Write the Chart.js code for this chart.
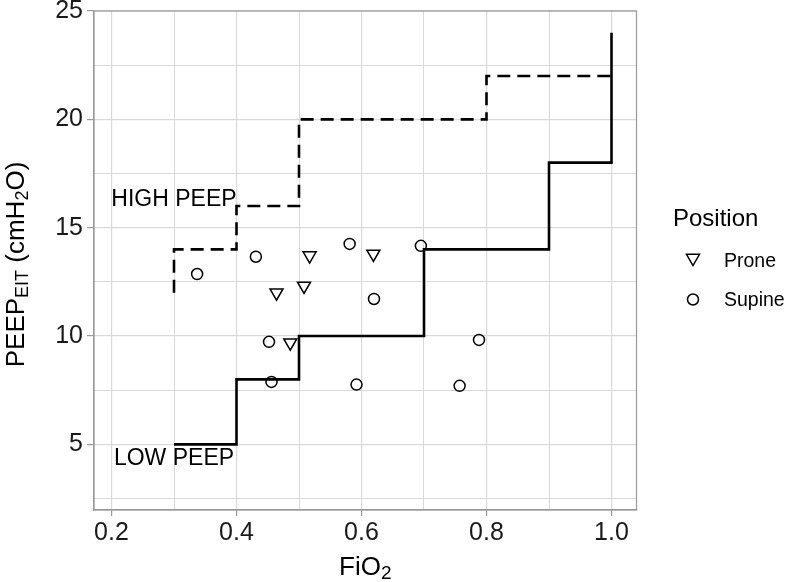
<!DOCTYPE html>
<html>
<head>
<meta charset="utf-8">
<script src="https://cdn.jsdelivr.net/npm/chart.js@4"></script>
<style>
  html, body { margin:0; padding:0; background:#fff; }
  #wrap { width:787px; height:582px; }
</style>
</head>
<body>
<div id="wrap"><canvas id="chart" width="787" height="582"></canvas></div>
<script>
// PEEP/FiO2 step tables
const lowFio2  = [0.3, 0.4, 0.5, 0.7, 0.9, 1.0];
const lowPeep  = [5, 8, 10, 14, 18, 24];
const highFio2 = [0.3, 0.3, 0.4, 0.5, 0.8, 1.0];
const highPeep = [12, 14, 16, 20, 22, 22];

// measured patients
const proneFio2  = [0.464, 0.508, 0.517, 0.486, 0.619];
const pronePeep  = [12.0, 12.31, 13.71, 9.69, 13.79];
const supineFio2 = [0.337, 0.431, 0.452, 0.456, 0.581, 0.620, 0.695, 0.592, 0.757, 0.788];
const supinePeep = [12.86, 13.66, 9.73, 7.88, 14.25, 11.71, 14.16, 7.76, 7.70, 9.82];

// axes
const xTicks = [0.2, 0.3, 0.4, 0.5, 0.6, 0.7, 0.8, 0.9, 1.0];
const yTicks = [2.5, 5, 7.5, 10, 12.5, 15, 17.5, 20, 22.5, 25];

// text labels on the panel
const noteText = ['HIGH PEEP', 'LOW PEEP'];
const noteX = [0.3, 0.3];
const noteY = [16.0, 4.05];

const FONT = "'Liberation Sans', Arial, sans-serif";
const GRID = '#d9d9d9';
const FRAME = '#9a9a9a';

const toPts = (xs, ys) => xs.map((x, i) => ({ x, y: ys[i] }));
const xMajor = v => Math.round(v * 10) % 2 === 0;
const yMajor = v => v % 5 === 0;

// draw a string made of normal and subscript parts, centred on x
function drawRich(ctx, parts, x, y, size, subSize){
  let w = 0;
  parts.forEach(p => { ctx.font = `${p.sub ? subSize : size}px ${FONT}`; p.w = ctx.measureText(p.t).width; w += p.w; });
  let cx = x - w / 2;
  ctx.textAlign = 'left'; ctx.textBaseline = 'alphabetic';
  parts.forEach(p => {
    ctx.font = `${p.sub ? subSize : size}px ${FONT}`;
    ctx.fillText(p.t, cx, y + (p.sub ? 4 : 0));
    cx += p.w;
  });
}

const decor = {
  id: 'decor',
  afterDraw(chart){
    const { ctx, chartArea: a, scales: { x, y } } = chart;
    ctx.save();
    // panel frame
    ctx.strokeStyle = FRAME; ctx.lineWidth = 1.2;
    ctx.strokeRect(a.left, a.top, a.right - a.left, a.bottom - a.top);

    // HIGH / LOW PEEP
    ctx.fillStyle = '#000';
    ctx.font = `23px ${FONT}`; ctx.textAlign = 'center'; ctx.textBaseline = 'alphabetic';
    noteText.forEach((t, i) => ctx.fillText(t, x.getPixelForValue(noteX[i]), y.getPixelForValue(noteY[i])));

    // x title
    drawRich(ctx, [{ t: 'FiO' }, { t: '2', sub: true }], (a.left + a.right) / 2, 575, 26, 19);

    // y title
    ctx.save();
    ctx.translate(24, (a.top + a.bottom) / 2 + 4);
    ctx.rotate(-Math.PI / 2);
    drawRich(ctx, [{ t: 'PEEP' }, { t: 'EIT', sub: true }, { t: ' (cmH' }, { t: '2', sub: true }, { t: 'O)' }], 0, 0, 26, 18);
    ctx.restore();

    // legend
    ctx.fillStyle = '#000';
    ctx.textAlign = 'left'; ctx.textBaseline = 'alphabetic';
    ctx.font = `24px ${FONT}`;
    ctx.fillText('Position', 673, 226);
    ctx.font = `19.5px ${FONT}`;
    ctx.fillText('Prone', 724, 267);
    ctx.fillText('Supine', 724, 306);
    ctx.strokeStyle = '#000'; ctx.lineWidth = 1.5;
    // down triangle
    const tx = 693, ty = 258, r = 7.5;
    ctx.beginPath();
    for (let k = 0; k < 3; k++){
      const ang = Math.PI + k * 2 * Math.PI / 3;
      const px = tx + Math.sin(ang) * r, py = ty - Math.cos(ang) * r;
      k ? ctx.lineTo(px, py) : ctx.moveTo(px, py);
    }
    ctx.closePath(); ctx.stroke();
    ctx.beginPath(); ctx.arc(693, 299.5, 5.5, 0, Math.PI * 2); ctx.stroke();
    ctx.restore();
  }
};

new Chart(document.getElementById('chart').getContext('2d'), {
  type: 'scatter',
  data: {
    datasets: [
      { label: 'LOW PEEP', type: 'line', data: toPts(lowFio2, lowPeep), stepped: 'before',
        borderColor: '#000', borderWidth: 2.6, pointRadius: 0, fill: false },
      { label: 'HIGH PEEP', type: 'line', data: toPts(highFio2, highPeep), stepped: 'before',
        borderColor: '#000', borderWidth: 2.6, borderDash: [13, 7], pointRadius: 0, fill: false },
      { label: 'Prone', data: toPts(proneFio2, pronePeep), pointStyle: 'triangle', rotation: 180,
        pointRadius: 7.5, borderColor: '#000', borderWidth: 1.5, backgroundColor: 'rgba(0,0,0,0)' },
      { label: 'Supine', data: toPts(supineFio2, supinePeep), pointStyle: 'circle',
        pointRadius: 5.5, borderColor: '#000', borderWidth: 1.5, backgroundColor: 'rgba(0,0,0,0)' }
    ]
  },
  options: {
    responsive: false,
    animation: false,
    events: [],
    layout: { padding: { top: 11, right: 150.5, left: 0, bottom: 0 } },
    plugins: { legend: { display: false }, tooltip: { enabled: false } },
    scales: {
      x: {
        type: 'linear', min: 0.172, max: 1.04,
        afterBuildTicks: s => { s.ticks = xTicks.map(v => ({ value: v })); },
        afterFit: s => { s.height = 72; s.paddingLeft = 0; s.paddingRight = 0; },
        ticks: { autoSkip: false, maxRotation: 0, padding: 2, color: '#1a1a1a',
          font: { family: FONT, size: 25 },
          callback: v => xMajor(v) ? v.toFixed(1) : '' },
        grid: { color: GRID, lineWidth: c => xMajor(c.tick.value) ? 1.2 : 1,
          tickColor: c => xMajor(c.tick.value) ? FRAME : 'rgba(0,0,0,0)', tickLength: 6 },
        border: { color: FRAME, width: 1.2 }
      },
      y: {
        type: 'linear', min: 1.97, max: 25,
        afterBuildTicks: s => { s.ticks = yTicks.map(v => ({ value: v })); },
        afterFit: s => { s.width = 94; s.paddingTop = 0; s.paddingBottom = 0; },
        ticks: { autoSkip: false, padding: 4, color: '#1a1a1a',
          font: { family: FONT, size: 25 },
          callback: v => yMajor(v) ? String(v) : '' },
        grid: { color: GRID, lineWidth: c => yMajor(c.tick.value) ? 1.2 : 1,
          tickColor: c => yMajor(c.tick.value) ? FRAME : 'rgba(0,0,0,0)', tickLength: 7 },
        border: { color: FRAME, width: 1.2 }
      }
    }
  },
  plugins: [decor]
});
</script>
</body>
</html>
